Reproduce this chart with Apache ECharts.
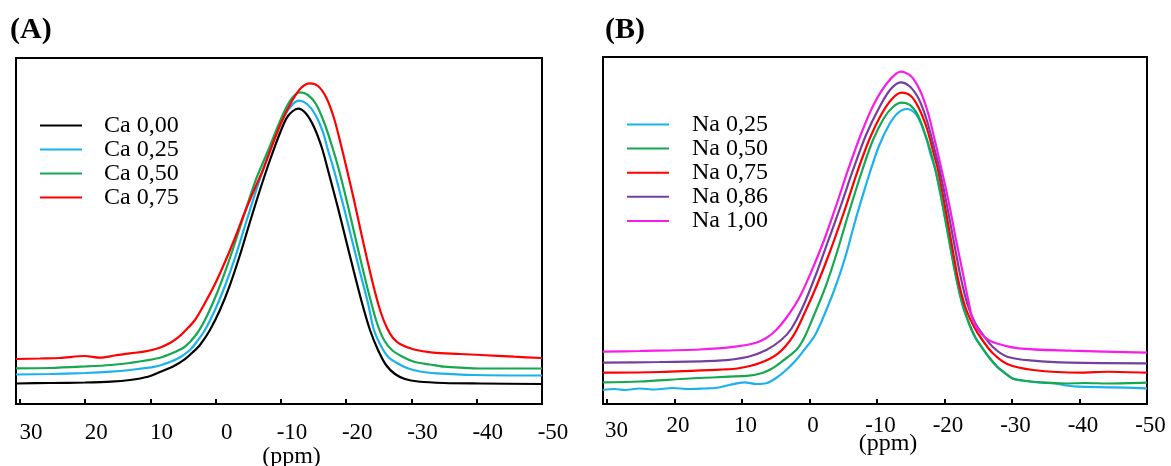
<!DOCTYPE html>
<html>
<head>
<meta charset="utf-8">
<script src="https://cdn.jsdelivr.net/npm/echarts@6/dist/echarts.min.js"></script>
<style>html,body{margin:0;padding:0;background:#fff}#c{width:1171px;height:466px}</style>
</head>
<body>
<div id="c"></div>
<script>
// x: chemical shift (ppm), y: intensity (a.u., plot height = 100)
const xTicks = [30, 20, 10, 0, -10, -20, -30, -40, -50];
const namesA = ['Ca 0,00', 'Ca 0,25', 'Ca 0,50', 'Ca 0,75'];
const namesB = ['Na 0,25', 'Na 0,50', 'Na 0,75', 'Na 0,86', 'Na 1,00'];

const ca000 = [[30.61,5.92],[25.40,6.07],[20.04,6.21],[16.05,6.45],[13.14,6.94],[10.38,7.89],[8.54,9.25],[6.40,10.98],[4.71,13.0],[3.64,14.74],[2.41,17.05],[0.88,21.39],[-0.65,27.17],[-2.18,34.39],[-3.72,43.06],[-5.25,52.6],[-6.78,61.85],[-8.32,70.52],[-9.85,78.32],[-11.07,83.24],[-12.61,85.35],[-13.83,83.96],[-15.06,80.06],[-16.28,73.99],[-17.20,67.63],[-18.74,56.65],[-19.96,47.4],[-21.19,38.15],[-22.42,29.19],[-23.64,21.39],[-24.87,15.61],[-26.10,11.27],[-27.47,8.67],[-29.01,7.23],[-31.00,6.5],[-34.98,6.07],[-40.50,5.92],[-50,5.78]];
const ca025 = [[30.61,8.53],[25.40,8.67],[20.04,8.96],[16.05,9.34],[13.14,9.83],[9.31,10.78],[7.01,12.14],[5.32,13.67],[3.95,15.61],[3.03,17.63],[1.65,21.39],[0.11,27.17],[-1.42,34.1],[-2.95,42.2],[-4.48,51.45],[-6.02,60.69],[-7.55,69.36],[-9.08,77.17],[-10.61,83.53],[-11.84,86.71],[-12.76,87.66],[-13.98,86.71],[-15.21,83.82],[-16.44,78.61],[-17.20,73.41],[-18.12,67.63],[-19.66,56.65],[-20.88,47.4],[-22.11,38.15],[-23.33,29.19],[-24.25,21.39],[-25.33,16.76],[-26.40,13.67],[-27.78,11.85],[-29.31,10.40],[-31.30,9.39],[-33.91,8.87],[-39.58,8.38],[-50,8.24]];
const ca050 = [[30.61,10.32],[25.40,10.40],[20.04,10.84],[16.05,11.27],[13.14,11.85],[8.70,13.29],[6.24,15.03],[4.71,16.56],[3.03,19.94],[1.65,24.28],[0.11,30.64],[-1.42,38.15],[-2.95,46.53],[-4.48,55.49],[-6.02,64.16],[-7.09,69.08],[-8.32,74.57],[-9.54,80.35],[-10.77,85.55],[-11.84,88.73],[-12.91,90.09],[-14.14,89.31],[-15.36,86.71],[-16.59,81.50],[-17.82,74.57],[-18.89,67.63],[-20.12,58.38],[-21.34,48.55],[-22.57,38.73],[-23.64,30.64],[-24.71,23.41],[-25.79,18.50],[-27.01,15.61],[-28.55,13.73],[-30.39,12.23],[-32.84,11.42],[-34.98,10.78],[-40.65,10.26],[-50,10.26]];
const ca075 = [[30.61,13.0],[26.93,13.15],[23.87,13.29],[20.04,13.87],[17.74,13.38],[15.44,14.02],[13.14,14.65],[11.00,15.12],[8.70,16.18],[7.01,17.63],[5.85,19.08],[4.71,21.10],[3.18,24.28],[1.65,29.19],[0.11,34.68],[-1.42,41.04],[-2.95,47.98],[-4.48,55.49],[-6.02,62.43],[-7.24,67.63],[-8.62,74.57],[-10.15,81.79],[-11.69,87.57],[-13.07,91.33],[-14.45,92.69],[-15.67,91.91],[-16.90,88.73],[-18.12,82.66],[-19.20,74.86],[-20.12,67.63],[-21.19,58.96],[-22.26,49.71],[-23.33,40.75],[-24.41,32.37],[-25.33,26.30],[-26.25,21.97],[-27.17,19.08],[-28.24,17.34],[-30.39,15.75],[-33.30,14.83],[-37.43,14.45],[-40.65,14.16],[-45.71,13.67],[-50,13.29]];

const na025 = [[30.64,4.03],[28.86,4.32],[27.39,4.03],[25.17,4.47],[22.95,4.18],[20.30,4.61],[17.78,4.32],[15.57,4.47],[13.94,4.61],[11.88,5.48],[9.66,6.25],[7.90,5.76],[6.41,5.97],[4.94,7.49],[3.46,9.80],[1.98,12.68],[0.80,15.56],[-0.83,19.88],[-2.31,26.22],[-3.78,33.43],[-5.26,42.07],[-6.89,53.60],[-8.22,62.25],[-9.06,67.44],[-10.29,74.35],[-11.77,80.40],[-13.09,83.86],[-14.46,85.01],[-15.60,83.86],[-16.48,80.98],[-17.37,76.08],[-17.96,71.76],[-18.66,67.44],[-19.58,58.79],[-20.62,47.84],[-21.65,37.18],[-22.68,28.53],[-23.72,22.77],[-24.61,19.02],[-25.50,16.43],[-26.68,13.26],[-27.80,10.75],[-29.00,8.85],[-30.07,7.35],[-31.55,6.77],[-33.91,6.20],[-36.38,5.97],[-38.05,5.33],[-39.82,4.99],[-44.70,4.81],[-50,4.52]];
const na050 = [[30.64,6.25],[25.17,6.48],[17.78,7.35],[8.93,8.16],[7.00,8.93],[5.68,10.09],[4.20,12.10],[1.98,15.56],[0.80,19.02],[-0.68,25.65],[-2.31,33.43],[-4.08,43.80],[-5.85,55.33],[-7.82,67.44],[-9.40,76.08],[-11.03,82.42],[-12.36,85.59],[-13.64,86.83],[-14.86,86.17],[-16.04,83.29],[-17.07,78.10],[-17.96,72.62],[-18.66,67.44],[-19.58,58.79],[-20.62,47.84],[-21.65,37.18],[-22.68,28.53],[-23.72,22.77],[-24.61,19.02],[-25.50,16.43],[-26.68,13.26],[-27.80,10.75],[-29.00,8.85],[-30.07,7.35],[-31.55,6.77],[-34.90,6.14],[-37.86,5.91],[-40.81,6.05],[-44.25,5.91],[-50,6.14]];
const na075 = [[30.64,9.02],[22.22,9.22],[12.91,9.94],[10.70,10.23],[7.46,11.73],[4.64,14.61],[2.48,19.40],[0.80,25.94],[-0.98,33.72],[-2.90,43.23],[-5.11,55.33],[-7.18,67.44],[-8.95,76.66],[-10.59,83.29],[-12.21,87.90],[-13.64,89.71],[-15.01,88.76],[-16.19,85.30],[-17.37,79.54],[-18.26,73.20],[-19.04,67.44],[-20.03,57.35],[-21.06,46.11],[-22.09,35.16],[-23.13,27.67],[-24.31,22.48],[-25.50,18.73],[-27.12,14.70],[-29.29,11.53],[-33.12,9.80],[-40.27,9.02],[-44.25,9.3],[-50,9.02]];
const na086 = [[30.64,11.90],[22.22,12.10],[13.50,12.48],[9.07,13.63],[6.41,15.56],[4.20,18.44],[2.72,21.61],[0.94,28.24],[-0.98,37.46],[-2.75,46.97],[-4.67,57.35],[-6.44,67.44],[-8.37,77.52],[-10.29,85.30],[-11.92,90.49],[-13.49,92.71],[-14.86,91.50],[-16.19,87.90],[-17.37,81.84],[-18.40,74.35],[-19.29,67.44],[-20.32,57.64],[-21.36,46.97],[-22.39,36.60],[-23.43,28.53],[-24.46,23.63],[-25.50,20.46],[-27.12,16.51],[-29.29,13.63],[-33.12,12.48],[-38.64,11.90],[-50,11.73]];
const na100 = [[30.64,15.07],[25.17,15.27],[16.31,15.71],[10.99,16.51],[8.04,17.58],[6.41,19.02],[4.94,21.33],[3.46,24.78],[1.54,30.55],[-0.24,38.04],[-2.16,47.26],[-3.93,57.06],[-5.70,67.44],[-7.63,77.81],[-9.55,86.46],[-11.62,92.80],[-13.53,95.76],[-15.01,94.52],[-16.34,90.49],[-17.52,84.15],[-18.55,76.08],[-19.58,67.44],[-20.62,58.21],[-21.65,47.84],[-22.68,38.04],[-23.58,29.39],[-24.31,23.63],[-25.94,19.31],[-27.64,17.49],[-30.96,16.05],[-38.64,15.36],[-50,14.78]];

const colorsA = ['#000000', '#1ab1ef', '#14a850', '#ff0000'];
const colorsB = ['#1ab1ef', '#14a850', '#ff0000', '#7440a0', '#f81ce8'];
const dataA = [ca000, ca025, ca050, ca075];
const dataB = [na025, na050, na075, na086, na100];

const FONT = '"Liberation Serif", "Times New Roman", serif';

function xAxisCfg(gridIndex, labelPad, margin, nameGap, namePad, shiftFirst) {
  return {
    type: 'value', gridIndex, min: -50, max: 30.6, interval: 10, inverse: true,
    axisLine: { show: false },
    axisTick: { show: true, inside: true, length: 5, lineStyle: { color: '#000', width: 2 } },
    splitLine: { show: false },
    axisLabel: {
      color: '#000', fontSize: 23, fontFamily: FONT, margin,
      padding: [0, 0, 0, labelPad],
      formatter: v => {
        if (xTicks.indexOf(v) < 0) return '';
        if (shiftFirst && v === 30) return '{s|30}';
        return String(v);
      },
      rich: { s: { color: '#000', fontSize: 23, fontFamily: FONT, padding: [5, 0, 0, 12] } }
    },
    name: '(ppm)', nameLocation: 'middle', nameGap, nameMoveOverlap: false,
    nameTextStyle: { color: '#000', fontSize: 24, fontFamily: FONT, padding: [0, 0, 0, namePad] }
  };
}
function yAxisCfg(gridIndex) {
  return { type: 'value', gridIndex, min: 0, max: 100, show: false, splitLine: { show: false } };
}
function legendCfg(names, left, top, gap, pad) {
  return {
    data: names, orient: 'vertical', left, top, itemGap: gap,
    itemWidth: 42, itemHeight: 2, icon: 'rect', padding: 0,
    textStyle: { color: '#000', fontSize: 24, fontFamily: FONT, lineHeight: 23.3, padding: [0, 0, 0, pad] },
    selectedMode: false
  };
}

const series = [];
namesA.forEach((n, i) => series.push({
  name: n, type: 'line', xAxisIndex: 0, yAxisIndex: 0, data: dataA[i], smooth: 0.3,
  showSymbol: false, lineStyle: { color: colorsA[i], width: 2.2 }, itemStyle: { color: colorsA[i] }
}));
namesB.forEach((n, i) => series.push({
  name: n, type: 'line', xAxisIndex: 1, yAxisIndex: 1, data: dataB[i], smooth: 0.3,
  showSymbol: false, lineStyle: { color: colorsB[i], width: 2.2 }, itemStyle: { color: colorsB[i] }
}));

const chart = echarts.init(document.getElementById('c'), null, { renderer: 'canvas' });
chart.setOption({
  animation: false,
  backgroundColor: '#fff',
  title: [
    { text: '(A)', left: 10, top: 15, padding: 0, textStyle: { color: '#000', fontSize: 30, fontWeight: 'bold', fontFamily: FONT } },
    { text: '(B)', left: 605, top: 15, padding: 0, textStyle: { color: '#000', fontSize: 30, fontWeight: 'bold', fontFamily: FONT } }
  ],
  legend: [
    legendCfg(namesA, 40, 113.5, 0, 17),
    legendCfg(namesB, 627, 112.5, 0.1, 18)
  ],
  grid: [
    { left: 16, top: 58, width: 526, height: 346, show: true, borderColor: '#000', borderWidth: 2, backgroundColor: 'transparent', containLabel: false, outerBoundsMode: 'none' },
    { left: 603, top: 57, width: 544, height: 347, show: true, borderColor: '#000', borderWidth: 2, backgroundColor: 'transparent', containLabel: false, outerBoundsMode: 'none' }
  ],
  xAxis: [xAxisCfg(0, 22, 17, 41, 25, false), xAxisCfg(1, 7, 10, 28, 26, true)],
  yAxis: [yAxisCfg(0), yAxisCfg(1)],
  series
});
</script>
</body>
</html>
